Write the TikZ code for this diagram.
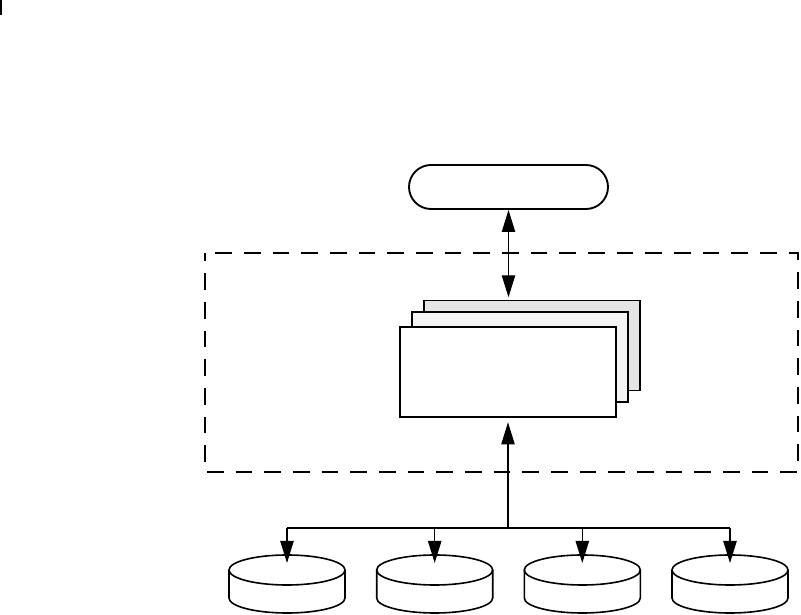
\documentclass[tikz,border=0pt]{standalone}
\usetikzlibrary{arrows.meta, calc}

\begin{document}
\begin{tikzpicture}[x=0.75pt, y=0.75pt,
        page/.style={draw, line width=0.8pt, minimum width=162pt, minimum height=67.5pt, inner sep=0pt},
        link/.style={line width=0.9pt, -{Triangle[length=16.5pt, width=10pt]}}]
        % Define radii of the disks
        \def\rx{58}
        \def\ry{15}
        \useasboundingbox (0,0) rectangle (801,615);
        \clip (0,0) rectangle (801,615);
        % Draw the mark in the corner
        \draw[line width=1.5pt] (0.8,615) -- (0.8,600);
        % Draw the terminal at the top
        \node[draw, line width=1.4pt, rounded corners=16.5pt, minimum width=149.25pt, minimum height=33pt] (client) at (508.5,428) {};
        % Draw the dashed boundary
        \draw[line width=2pt, dash pattern=on 12.5pt off 9pt, dash phase=6.3pt] (205,362) rectangle (798,143);
        % Draw the stacked pages
        \node[page, fill=gray!20] (back) at (532,269.5) {};
        \node[page, fill=gray!9] (middle) at (520,258) {};
        \node[page, fill=white, line width=2pt] (front) at (508,243) {};
        \draw[line width=0.9pt, {Triangle[length=16.5pt, width=10pt]}-{Triangle[length=16.5pt, width=10pt]}, shorten >=2pt] (client.south) -- (client.south |- back.north);
        % Draw the disks
        \foreach \i/\cx in {1/287, 2/434.7, 3/582.3, 4/730} {
            \draw[line width=1.2pt, fill=white] (\cx-\rx,45) -- (\cx-\rx,17) arc[start angle=180, end angle=360, x radius=\rx, y radius=\ry] -- (\cx+\rx,45);
            \draw[line width=1.2pt] (\cx,45) ellipse[x radius=\rx, y radius=\ry];
            \coordinate (disk\i) at (\cx,52);
        }
        % Draw the bus
        \coordinate (bus) at (508,87);
        \draw[link, shorten >=3pt] (bus) -- (front.south);
        \draw[line width=0.9pt] (disk1 |- bus) -- (disk4 |- bus);
        \foreach \i in {1,...,4}
            \draw[link] (disk\i |- bus) -- (disk\i);
    \end{tikzpicture}
\end{document}
